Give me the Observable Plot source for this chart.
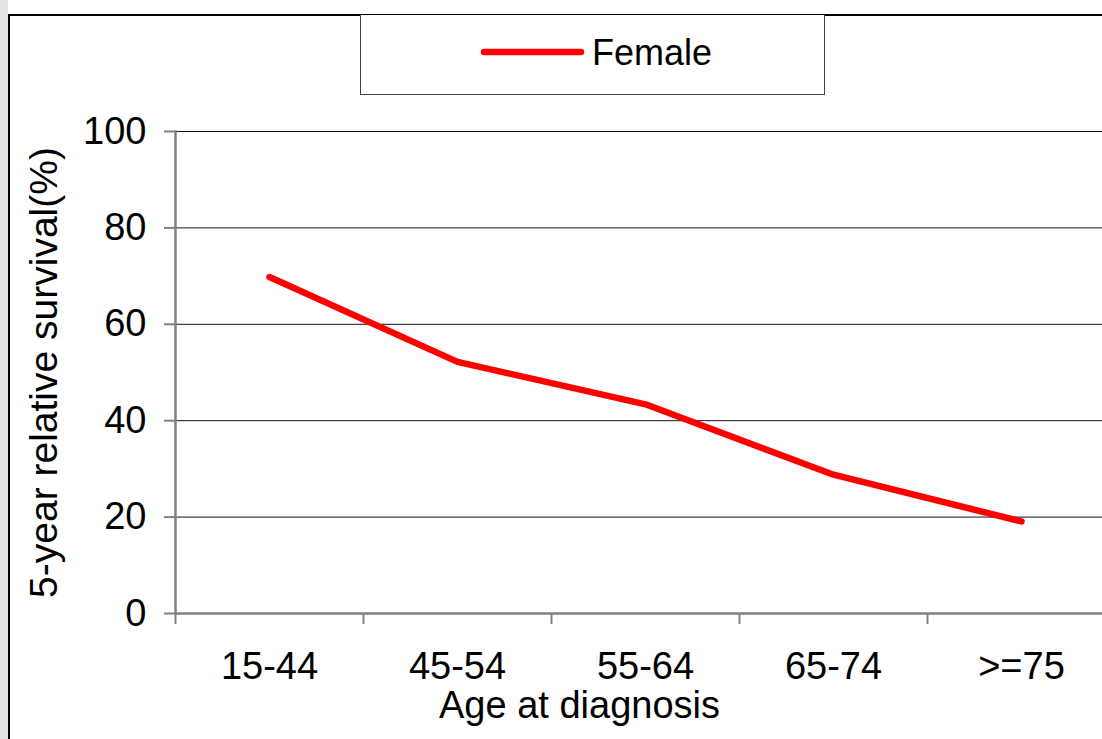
<!DOCTYPE html>
<html><head><meta charset="utf-8">
<script src="https://cdn.jsdelivr.net/npm/d3@7"></script>
<script src="https://cdn.jsdelivr.net/npm/@observablehq/plot@0.6"></script>
<style>
html,body{margin:0;padding:0;width:1102px;height:739px;overflow:hidden;background:#fff;font-family:"Liberation Sans",Arial,sans-serif;}
#strip{position:absolute;left:0;top:0;width:8px;height:739px;background:#e3e3e3;}
#frame{position:absolute;left:8px;top:14px;width:1200px;height:800px;border-left:2px solid #000;border-top:2px solid #000;}
#chart{position:absolute;left:0;top:0;width:1120px;}
#chart svg{max-width:none !important;}
#legend{position:absolute;left:360px;top:15px;width:463px;height:79px;border:1.5px solid #444;border-top:none;background:#fff;}
#legend svg{position:absolute;left:0;top:0;}
</style></head>
<body>
<div id="strip"></div>
<div id="frame"></div>
<div id="chart"></div>
<div id="legend"></div>
<script>
const categories = ["15-44", "45-54", "55-64", "65-74", ">=75"];
const survival = [69.8, 52.2, 43.4, 28.8, 19.1];
const yTicks = [0, 20, 40, 60, 80, 100];
const seriesName = "Female";
const xTitle = "Age at diagnosis";
const yTitle = "5-year relative survival(%)";

const data = categories.map((c, i) => ({age: c, value: survival[i]}));

const W = 1120, H = 739, mL = 175, mR = 5, mT = 131, mB = 126;
const bw = (W - mL - mR) / categories.length;
const font = "Liberation Sans, Arial, sans-serif";

const chart = Plot.plot({
  width: W, height: H,
  marginLeft: mL, marginRight: mR, marginTop: mT, marginBottom: mB,
  style: {fontFamily: font, background: "transparent", overflow: "visible", maxWidth: "none"},
  x: {type: "band", domain: categories, padding: 0, axis: null},
  y: {domain: [0, 100], axis: null},
  marks: [
    Plot.gridY(yTicks.filter(d => d > 0), {stroke: "#111", strokeOpacity: 1, strokeWidth: 1}),
    Plot.axisY(yTicks, {tickSize: 11, tickPadding: 18, fontSize: 38, stroke: "#808080", strokeWidth: 2, fill: "#000", label: null}),
    Plot.axisX(categories, {tickSize: 11, tickFormat: () => "", dx: -bw / 2, stroke: "#808080", strokeWidth: 2, label: null}),
    Plot.axisX(categories, {tickSize: 0, tickPadding: 39, fontSize: 38, fill: "#000", label: null}),
    Plot.ruleY([0], {stroke: "#808080", strokeWidth: 2.5}),
    Plot.frame({anchor: "left", stroke: "#808080", strokeWidth: 2.5}),
    Plot.lineY(data, {x: "age", y: "value", stroke: "#ff0000", strokeWidth: 6.5, strokeLinecap: "round", strokeLinejoin: "round"}),
    Plot.text([xTitle], {frameAnchor: "bottom", textAnchor: "middle", lineAnchor: "middle", dx: -66, dy: 92, fontSize: 38, fill: "#000"}),
    Plot.text([yTitle], {frameAnchor: "left", textAnchor: "middle", lineAnchor: "middle", rotate: -90, dx: -131, fontSize: 39, fill: "#000"})
  ]
});
document.getElementById("chart").appendChild(chart);

// legend
const leg = d3.select("#legend").append("svg").attr("width", 463).attr("height", 79);
leg.append("line").attr("x1", 123).attr("x2", 220).attr("y1", 37).attr("y2", 37)
  .attr("stroke", "#ff0000").attr("stroke-width", 6.5).attr("stroke-linecap", "round");
leg.append("text").attr("x", 231).attr("y", 37).attr("dy", "0.35em")
  .attr("font-family", font).attr("font-size", 36).attr("fill", "#000").text(seriesName);
</script>
</body></html>
